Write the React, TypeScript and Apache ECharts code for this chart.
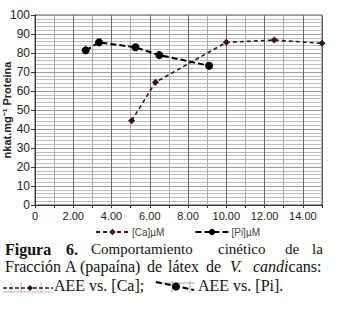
import React, { useEffect, useRef } from "react";
import * as echarts from "echarts";

const caX = [5.05, 6.3, 10.0, 12.5, 15.0];
const caY = [44.4, 64.6, 85.6, 86.8, 85.1];
const piX = [2.65, 3.35, 5.25, 6.5, 9.1];
const piY = [81.4, 85.6, 83.0, 78.9, 73.3];
const seriesNames = ["[Ca]µM", "[Pi]µM"];
const yAxisName = "nkat.mg⁻¹ Proteina";

const line1 = [
  { t: "Figura", x: 5, b: true, s: 16 },
  { t: "6.", x: 66, b: true, s: 16 },
  { t: "Comportamiento", x: 91, s: 15 },
  { t: "cinético", x: 218, s: 15 },
  { t: "de", x: 285, s: 15 },
  { t: "la", x: 312, s: 15 },
];
const line2 = [
  { t: "Fracción", x: 5, s: 16 },
  { t: "A", x: 65, s: 16 },
  { t: "(papaína)", x: 80, s: 16 },
  { t: "de", x: 147, s: 16 },
  { t: "látex", x: 168, s: 16 },
  { t: "de", x: 206, s: 16 },
  { t: "{i|V.}", x: 230, s: 16 },
  { t: "{i|candi}cans:", x: 253, s: 16 },
];
const line3 = [
  { t: "AEE vs. [Ca];", x: 54, s: 16 },
  { t: "AEE vs. [Pi].", x: 198, s: 16 },
];

const SERIF = "'Liberation Serif', 'Times New Roman', serif";
const SANS = "'Liberation Sans', Arial, sans-serif";

export default function App() {
  const ref = useRef<HTMLDivElement>(null);
  useEffect(() => {
    if (!ref.current) return;
    const chart = echarts.init(ref.current, null, { renderer: "svg" });
    const mkWords = (arr: any[], y: number) =>
      arr.map((w) => ({
        type: "text",
        x: w.x,
        y,
        silent: true,
        style: {
          text: w.t,
          font: `${w.b ? "bold " : ""}${w.s}px ${SERIF}`,
          fill: "#111",
          verticalAlign: "middle",
          rich: {
            i: { fontStyle: "italic", fontSize: w.s, fontFamily: SERIF, fill: "#111" },
          },
        },
      }));
    const graphics: any[] = [
      ...mkWords(line1, 249),
      ...mkWords(line2, 266),
      ...mkWords(line3, 285),
      // caption glyph 1
      { type: "line", shape: { x1: 3, y1: 292, x2: 53, y2: 292 }, style: { stroke: "#bbb", lineWidth: 1 } },
      { type: "line", shape: { x1: 11, y1: 282, x2: 11, y2: 293 }, style: { stroke: "#bbb", lineWidth: 1 } },
      { type: "line", shape: { x1: 21, y1: 282, x2: 21, y2: 293 }, style: { stroke: "#bbb", lineWidth: 1 } },
      { type: "line", shape: { x1: 41, y1: 282, x2: 41, y2: 293 }, style: { stroke: "#bbb", lineWidth: 1 } },
      { type: "line", shape: { x1: 3, y1: 288, x2: 53, y2: 288 }, style: { stroke: "#3d1212", lineWidth: 1.6, lineDash: [4, 2] } },
      { type: "polygon", shape: { points: [[30, 285], [33, 288], [30, 291], [27, 288]] }, style: { fill: "#3d1212" } },
      // caption glyph 2
      { type: "line", shape: { x1: 155, y1: 283, x2: 195, y2: 283 }, style: { stroke: "#aaa", lineWidth: 1 } },
      { type: "line", shape: { x1: 172, y1: 281, x2: 172, y2: 293 }, style: { stroke: "#aaa", lineWidth: 1 } },
      { type: "line", shape: { x1: 190, y1: 281, x2: 190, y2: 293 }, style: { stroke: "#aaa", lineWidth: 1 } },
      { type: "line", shape: { x1: 156, y1: 282, x2: 194, y2: 290 }, style: { stroke: "#000", lineWidth: 2, lineDash: [6, 3] } },
      { type: "circle", shape: { cx: 176, cy: 286.5, r: 4 }, style: { fill: "#000" } },
    ];
    chart.setOption({
      animation: false,
      backgroundColor: "#fff",
      grid: {
        left: 35,
        right: 16,
        top: 15,
        bottom: 107,
        containLabel: false,
        outerBoundsMode: "none",
        show: true,
        borderColor: "#555",
        borderWidth: 1,
        backgroundColor: "transparent",
      },
      legend: {
        top: 222,
        left: 90,
        itemWidth: 33,
        itemHeight: 8,
        itemGap: 30,
        textStyle: { fontSize: 10, fontFamily: SANS, color: "#444", padding: [0, 0, 0, -2] },
        data: seriesNames,
      },
      xAxis: {
        type: "value",
        min: 0,
        max: 15,
        interval: 2,
        axisLine: { lineStyle: { color: "#333", width: 1 } },
        axisTick: { show: true, length: 3, lineStyle: { color: "#333" } },
        minorTick: { show: true, splitNumber: 2, length: 3, lineStyle: { color: "#333" } },
        axisLabel: {
          fontSize: 11,
          fontFamily: SANS,
          color: "#222",
          margin: 5,
          showMaxLabel: false,
          formatter: (v: number) => (v === 0 ? "0" : v % 2 === 0 ? v.toFixed(2) : ""),
        },
        splitLine: { show: true, lineStyle: { color: "#666", width: 1 } },
        minorSplitLine: { show: true, lineStyle: { color: "#aaa", width: 1 } },
      },
      yAxis: {
        type: "value",
        min: 0,
        max: 100,
        interval: 10,
        name: yAxisName,
        nameLocation: "middle",
        nameGap: 23,
        nameMoveOverlap: false,
        nameTextStyle: { fontSize: 11, fontWeight: "bold", fontFamily: SANS, color: "#222" },
        axisLine: { show: true, lineStyle: { color: "#333", width: 1 } },
        axisTick: { show: true, length: 4, lineStyle: { color: "#333" } },
        axisLabel: { fontSize: 12, fontFamily: SANS, color: "#222", margin: 5 },
        splitLine: { show: true, lineStyle: { color: "#999", width: 1 } },
        minorTick: { show: false, splitNumber: 5 },
        minorSplitLine: { show: true, lineStyle: { color: "#bdbdbd", width: 1 } },
      },
      series: [
        {
          name: seriesNames[0],
          type: "line",
          data: caX.map((x, i) => [x, caY[i]]),
          symbol: "diamond",
          symbolSize: 7,
          itemStyle: { color: "#3d1212" },
          lineStyle: { color: "#3d1212", width: 1.6, type: [4, 3] },
          z: 3,
        },
        {
          name: seriesNames[1],
          type: "line",
          data: piX.map((x, i) => [x, piY[i]]),
          symbol: "circle",
          symbolSize: 8,
          itemStyle: { color: "#000" },
          lineStyle: { color: "#000", width: 2, type: [6, 3] },
          z: 4,
        },
      ],
      graphic: graphics,
    });
    return () => chart.dispose();
  }, []);
  return (
    <div
      ref={ref}
      style={{ position: "absolute", left: 0, top: 0, width: 338, height: 312, background: "#fff" }}
    />
  );
}
